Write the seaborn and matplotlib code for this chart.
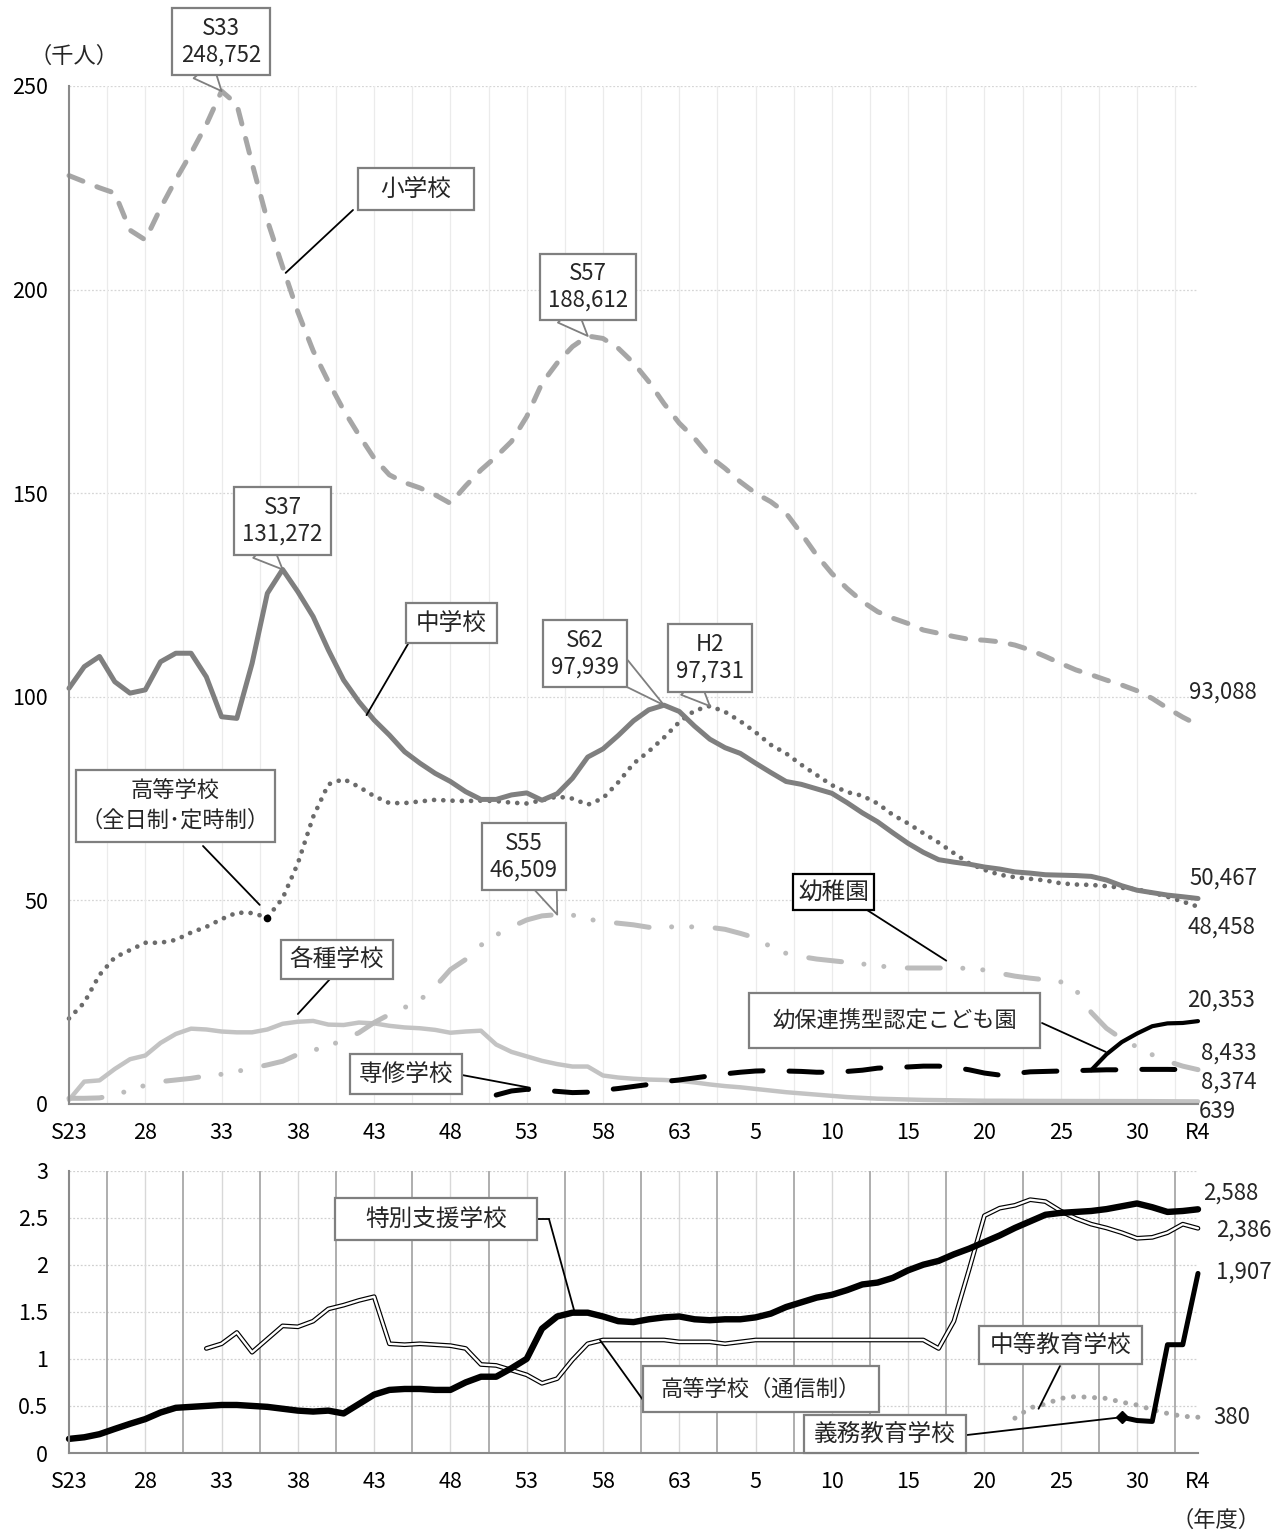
import matplotlib
matplotlib.use("Agg")
import matplotlib.pyplot as plt
from matplotlib.patches import Rectangle, ConnectionPatch
from matplotlib.lines import Line2D
import seaborn as sns

sns.set_theme(style="white")
plt.rcParams["font.family"] = ["Noto Sans CJK JP", "DejaVu Sans"]

W, H = 1272, 1535

# ---- data (千人) ----
years = list(range(1948, 2023))
tick_years = [1948, 1953, 1958, 1963, 1968, 1973, 1978, 1983, 1988, 1993,
              1998, 2003, 2008, 2013, 2018, 2022]
tick_labels = ["S23", "28", "33", "38", "43", "48", "53", "58", "63", "5",
               "10", "15", "20", "25", "30", "R4"]

elementary = [228.0, 226.5, 225.0, 223.7, 214.6, 212.2, 220.0, 227.0, 233.5, 240.5,
              248.752, 245.5, 231.0, 217.0, 205.6, 194.5, 185.0, 177.4, 170.4, 164.3,
              158.6, 154.5, 152.6, 151.3, 149.6, 147.5, 151.8, 155.7, 159.0, 162.7,
              168.8, 177.0, 182.0, 186.0, 188.612, 188.0, 185.6, 182.0, 177.4, 172.0,
              167.2, 163.5, 159.0, 156.1, 152.8, 150.0, 147.9, 145.1, 140.1, 134.8,
              130.3, 126.6, 123.4, 120.9, 119.3, 118.0, 116.4, 115.6, 114.8, 114.1,
              113.9, 113.5, 112.7, 111.5, 109.9, 108.2, 106.6, 105.4, 104.1, 102.9,
              101.5, 99.6, 97.2, 95.0, 93.088]

junior_high = [102.1, 107.4, 109.9, 103.7, 100.9, 101.7, 108.6, 110.7, 110.7, 104.9,
               95.1, 94.7, 108.2, 125.4, 131.272, 125.8, 119.7, 111.5, 104.1, 98.8,
               94.3, 90.6, 86.5, 83.7, 81.2, 79.2, 76.7, 74.8, 74.8, 75.9,
               76.4, 74.6, 76.2, 80.0, 85.2, 87.2, 90.5, 94.1, 96.8, 97.939,
               96.4, 92.8, 89.6, 87.5, 86.1, 83.7, 81.4, 79.2, 78.5, 77.4,
               76.3, 74.0, 71.5, 69.3, 66.6, 64.0, 61.8, 60.0, 59.4, 58.9,
               58.2, 57.7, 57.0, 56.7, 56.3, 56.2, 56.1, 55.9, 55.0, 53.6,
               52.5, 51.9, 51.3, 50.9, 50.467]

high_school = [21.0, 24.9, 31.7, 36.0, 37.8, 39.6, 39.6, 40.3, 42.1, 43.5,
               45.4, 47.0, 46.9, 45.8, 50.5, 59.1, 70.5, 78.5, 79.8, 77.9,
               75.6, 73.9, 73.9, 74.3, 74.7, 74.5, 74.4, 74.5, 74.4, 74.0,
               73.8, 74.6, 75.5, 75.0, 73.5, 75.1, 79.0, 83.6, 86.6, 90.0,
               93.8, 96.6, 97.731, 96.3, 94.0, 91.3, 88.2, 86.1, 83.3, 80.8,
               78.3, 76.6, 75.7, 73.8, 71.0, 68.9, 66.5, 64.2, 61.6, 59.1,
               57.5, 56.3, 55.7, 55.3, 54.9, 54.2, 53.9, 53.8, 53.5, 53.1,
               52.7, 51.9, 50.9, 49.7, 48.458]

kindergarten = [1.4, 1.4, 1.5, 2.2, 3.4, 4.6, 5.5, 5.9, 6.3, 6.9,
                7.3, 8.0, 8.8, 9.6, 10.5, 12.2, 13.2, 14.2, 15.8, 17.5,
                20.0, 22.0, 23.7, 25.5, 28.8, 33.0, 35.5, 39.0, 41.5, 43.5,
                45.2, 46.2, 46.509, 46.4, 45.4, 44.8, 44.4, 44.0, 43.4, 43.5,
                43.5, 43.5, 43.4, 42.9, 41.9, 40.8, 38.6, 37.0, 36.2, 35.6,
                35.2, 34.8, 34.4, 33.9, 33.6, 33.4, 33.4, 33.4, 33.4, 33.3,
                32.9, 32.1, 31.4, 30.9, 30.5, 30.0, 28.0, 22.5, 18.6, 16.0,
                14.0, 12.1, 10.5, 9.3, 8.433]

misc_school = [1.0, 5.5, 5.8, 8.6, 11.0, 11.9, 15.0, 17.2, 18.5, 18.3,
               17.8, 17.6, 17.6, 18.3, 19.7, 20.2, 20.4, 19.5, 19.4, 20.0,
               19.8, 19.2, 18.8, 18.6, 18.2, 17.5, 17.8, 18.0, 14.6, 12.8,
               11.7, 10.6, 9.8, 9.2, 9.2, 7.0, 6.5, 6.2, 6.0, 5.9,
               5.7, 5.3, 4.8, 4.4, 4.1, 3.7, 3.3, 2.9, 2.6, 2.3,
               2.0, 1.7, 1.5, 1.3, 1.2, 1.1, 1.0, 0.95, 0.9, 0.85,
               0.8, 0.8, 0.78, 0.76, 0.75, 0.74, 0.73, 0.72, 0.72, 0.71,
               0.70, 0.69, 0.67, 0.65, 0.639]

senshu_years = list(range(1976, 2023))
senshu = [2.2, 3.2, 3.6, 3.4, 3.1, 2.8, 2.9, 3.4, 3.8, 4.3,
          4.8, 5.5, 5.9, 6.4, 6.9, 7.4, 7.8, 8.1, 8.2, 8.1,
          8.0, 7.8, 7.8, 8.0, 8.3, 8.8, 9.0, 9.1, 9.3, 9.3,
          9.0, 8.4, 7.6, 7.1, 7.5, 7.9, 8.0, 8.1, 8.2, 8.3,
          8.4, 8.4, 8.5, 8.5, 8.5, 8.45, 8.374]

kodomoen_years = list(range(2015, 2023))
kodomoen = [8.3, 12.2, 15.2, 17.3, 19.1, 19.8, 19.9, 20.353]

special_support = [0.15, 0.167, 0.20, 0.256, 0.31, 0.36, 0.43, 0.48, 0.49, 0.50,
                   0.51, 0.51, 0.50, 0.49, 0.47, 0.45, 0.44, 0.45, 0.42, 0.52,
                   0.62, 0.67, 0.68, 0.68, 0.67, 0.67, 0.75, 0.81, 0.81, 0.90,
                   1.00, 1.32, 1.45, 1.49, 1.49, 1.45, 1.40, 1.39, 1.42, 1.44,
                   1.45, 1.42, 1.41, 1.42, 1.42, 1.44, 1.48, 1.55, 1.60, 1.65,
                   1.68, 1.73, 1.79, 1.81, 1.86, 1.94, 2.00, 2.04, 2.11, 2.17,
                   2.24, 2.31, 2.39, 2.46, 2.53, 2.55, 2.56, 2.57, 2.59, 2.62,
                   2.65, 2.61, 2.56, 2.57, 2.588]

tsushin_years = list(range(1957, 2023))
tsushin = [1.11, 1.16, 1.28, 1.07, 1.21, 1.35, 1.34, 1.40, 1.53, 1.57,
           1.62, 1.66, 1.16, 1.15, 1.16, 1.15, 1.14, 1.11, 0.94, 0.93,
           0.88, 0.83, 0.74, 0.79, 0.99, 1.16, 1.20, 1.20, 1.20, 1.20,
           1.20, 1.18, 1.18, 1.18, 1.16, 1.18, 1.20, 1.20, 1.20, 1.20,
           1.20, 1.20, 1.20, 1.20, 1.20, 1.20, 1.20, 1.20, 1.11, 1.40,
           1.95, 2.52, 2.60, 2.63, 2.69, 2.67, 2.57, 2.49, 2.43, 2.39,
           2.34, 2.28, 2.29, 2.34, 2.43, 2.386]

chuto_years = list(range(2010, 2023))
chuto = [0.37, 0.48, 0.52, 0.58, 0.60, 0.59, 0.58, 0.54, 0.51, 0.46, 0.42, 0.39, 0.38]

gimu_years = list(range(2017, 2023))
gimu = [0.38, 0.345, 0.335, 1.15, 1.15, 1.907]


def fxy(x, y):
    return (x / W, 1 - y / H)


fig = plt.figure(figsize=(W / 100, H / 100), dpi=100)
ax1 = fig.add_axes([69 / W, 1 - 1104 / H, (1198 - 69) / W, (1104 - 86) / H])
ax2 = fig.add_axes([69 / W, 1 - 1453 / H, (1198 - 69) / W, (1453 - 1170.5) / H])


def line(ax, xs, ys, **kw):
    sns.lineplot(x=xs, y=ys, ax=ax, estimator=None, legend=False, clip_on=False, **kw)


# top panel grid
for v in [50, 100, 150, 200, 250]:
    ax1.axhline(v, color="#d6d6d6", lw=0.9, ls=(0, (1.5, 1.5)), zorder=0)
g = 1950.5
while g < 2022:
    ax1.axvline(g, color="#ebebeb", lw=0.9, zorder=0)
    g += 2.5

line(ax1, years, misc_school, color="#c3c3c3", linewidth=3.2)
line(ax1, years, kindergarten, color="#bcbcbc", linewidth=3.6,
     linestyle=(0, (6.6, 4.5, 0.01, 4, 0.01, 4.7)), dash_capstyle="round")
line(ax1, senshu_years, senshu, color="black", linewidth=3.6,
     linestyle=(0, (6.6, 5.2)), dash_capstyle="round")
line(ax1, kodomoen_years, kodomoen, color="black", linewidth=3.0)
line(ax1, years, high_school, color="#6b6b6b", linewidth=3.4,
     linestyle=(0, (0.01, 1.95)), dash_capstyle="round")
line(ax1, years, junior_high, color="#7f7f7f", linewidth=3.6)
line(ax1, years, elementary, color="#a6a6a6", linewidth=3.6,
     linestyle=(0, (3, 3)), dash_capstyle="round")
ax1.plot(1961, high_school[years.index(1961)], "o", color="black", ms=4.5, zorder=5)

ax1.set_xlim(1948, 2022)
ax1.set_ylim(0, 250)
ax1.set_yticks([0, 50, 100, 150, 200, 250])

# bottom panel grid
for v in [0.5, 1, 1.5, 2, 2.5, 3]:
    ax2.axhline(v, color="#d0d0d0", lw=0.9, ls=(0, (1.5, 1.5)), zorder=0)
g = 1950.5
while g < 2022:
    ax2.axvline(g, color="#a8a8a8", lw=1.3, zorder=0)
    ax2.axvline(g + 2.5, color="#d8d8d8", lw=1.0, zorder=0)
    g += 5

line(ax2, tsushin_years, tsushin, color="black", linewidth=3.4)
line(ax2, tsushin_years, tsushin, color="white", linewidth=1.7)
line(ax2, chuto_years, chuto, color="#a6a6a6", linewidth=3.6,
     linestyle=(0, (0.01, 2.1)), dash_capstyle="round")
line(ax2, years, special_support, color="black", linewidth=4.6)
line(ax2, gimu_years, gimu, color="black", linewidth=3.6)
ax2.plot(gimu_years[0], gimu[0], "D", color="black", ms=6, zorder=5)

ax2.set_xlim(1948, 2022)
ax2.set_ylim(0, 3)
ax2.set_yticks([0, 0.5, 1, 1.5, 2, 2.5, 3])
ax2.set_yticklabels(["0", "0.5", "1", "1.5", "2", "2.5", "3"])

for ax in (ax1, ax2):
    ax.set_xticks(tick_years)
    ax.set_xticklabels(tick_labels)
    ax.tick_params(axis="both", length=0, labelsize=15.5, labelcolor="black")
    ax.tick_params(axis="x", pad=13)
    ax.tick_params(axis="y", pad=15)
    for s in ["top", "right"]:
        ax.spines[s].set_visible(False)
    for s in ["left", "bottom"]:
        ax.spines[s].set_color("#8a8a8a")
        ax.spines[s].set_linewidth(1.5)
    ax.set_xlabel("")
    ax.set_ylabel("")
    ax.set_facecolor("white")


def box(x0, y0, x1, y1, text, ec="#7f7f7f", ls=1.2, size=17):
    rect = Rectangle(fxy(x0, y1), (x1 - x0) / W, (y1 - y0) / H, transform=fig.transFigure,
                     fc="white", ec=ec, lw=1.6, zorder=5)
    fig.add_artist(rect)
    fig.text(*fxy((x0 + x1) / 2, (y0 + y1) / 2), text, ha="center", va="center",
             fontsize=size, linespacing=ls, zorder=6)


def callout(x0, y0, x1, y1, text, base, ax, target):
    tail = ConnectionPatch(xyA=fxy(*base), coordsA=fig.transFigure, xyB=target, coordsB=ax.transData,
                           arrowstyle="wedge,tail_width=0.9,shrink_factor=0.5", mutation_scale=20,
                           fc="white", ec="#7f7f7f", lw=1.3, zorder=4.5)
    fig.add_artist(tail)
    box(x0, y0, x1, y1, text, ls=1.2, size=16)


def label(x0, y0, x1, y1, text, start, ax, target, ec="#7f7f7f", size=17):
    con = ConnectionPatch(xyA=fxy(*start), coordsA=fig.transFigure, xyB=target, coordsB=ax.transData,
                          color="black", lw=1.3, zorder=4)
    fig.add_artist(con)
    box(x0, y0, x1, y1, text, ec=ec, ls=1.3, size=size)


# callouts with values
callout(172, 8, 270, 75, "S33\n248,752", (203, 70), ax1, (1958, elementary[years.index(1958)]))
callout(540, 254, 636, 320, "S57\n188,612", (567, 314), ax1, (1982, elementary[years.index(1982)]))
callout(234, 487, 331, 555, "S37\n131,272", (262, 549), ax1, (1962, junior_high[years.index(1962)]))
callout(543, 620, 627, 687, "S62\n97,939", (620, 670), ax1, (1987, junior_high[years.index(1987)]))
callout(668, 624, 752, 692, "H2\n97,731", (690, 686), ax1, (1990, high_school[years.index(1990)]))
callout(482, 823, 566, 890, "S55\n46,509", (545, 884), ax1, (1980, kindergarten[years.index(1980)]))

# series labels
label(358, 168, 474, 210, "小学校", (353, 210), ax1, (1962.2, 204.1))
label(406, 603, 497, 643, "中学校", (408, 644), ax1, (1967.5, 95.5))
label(76, 770, 275, 842, "高等学校\n（全日制･定時制）", (203, 846), ax1, (1960.5, 48.9), size=16)
label(281, 940, 393, 979, "各種学校", (330, 979), ax1, (1963.0, 22.1))
label(350, 1054, 462, 1094, "専修学校", (462, 1075), ax1, (1978.2, 4.0))
label(793, 874, 874, 910, "幼稚園", (867, 910), ax1, (2005.5, 35.2), ec="black")
label(749, 993, 1040, 1048, "幼保連携型認定こども園", (1042, 1023), ax1, (2015.95, 12.8), size=16)

label(335, 1198, 537, 1240, "特別支援学校", (549, 1219), ax2, (1981.15, 1.49))
fig.add_artist(Line2D([537 / W, 549 / W], [1 - 1219 / H, 1 - 1219 / H], transform=fig.transFigure,
                      color="black", lw=1.3, zorder=4))
label(643, 1366, 879, 1412, "高等学校（通信制）", (643, 1400), ax2, (1982.8, 1.20), size=16)
label(979, 1326, 1142, 1364, "中等教育学校", (1060, 1366), ax2, (2011.55, 0.47))
label(804, 1415, 966, 1453, "義務教育学校", (967, 1435), ax2, (gimu_years[0], gimu[0]))

# end values
for x, y, t in [(1189, 692, "93,088"), (1189, 878, "50,467"), (1187, 927, "48,458"),
                (1187, 1000, "20,353"), (1201, 1053, "8,433"), (1201, 1082, "8,374"),
                (1199, 1111, "639"), (1203, 1193, "2,588"), (1216, 1230, "2,386"),
                (1216, 1272, "1,907"), (1213, 1417, "380")]:
    fig.text(*fxy(x, y), t, ha="left", va="center", fontsize=16)

fig.text(*fxy(74, 56), "（千人）", ha="center", va="center", fontsize=16)
fig.text(*fxy(1216, 1520), "（年度）", ha="center", va="center", fontsize=16)

fig.savefig("out.png", dpi=100)
